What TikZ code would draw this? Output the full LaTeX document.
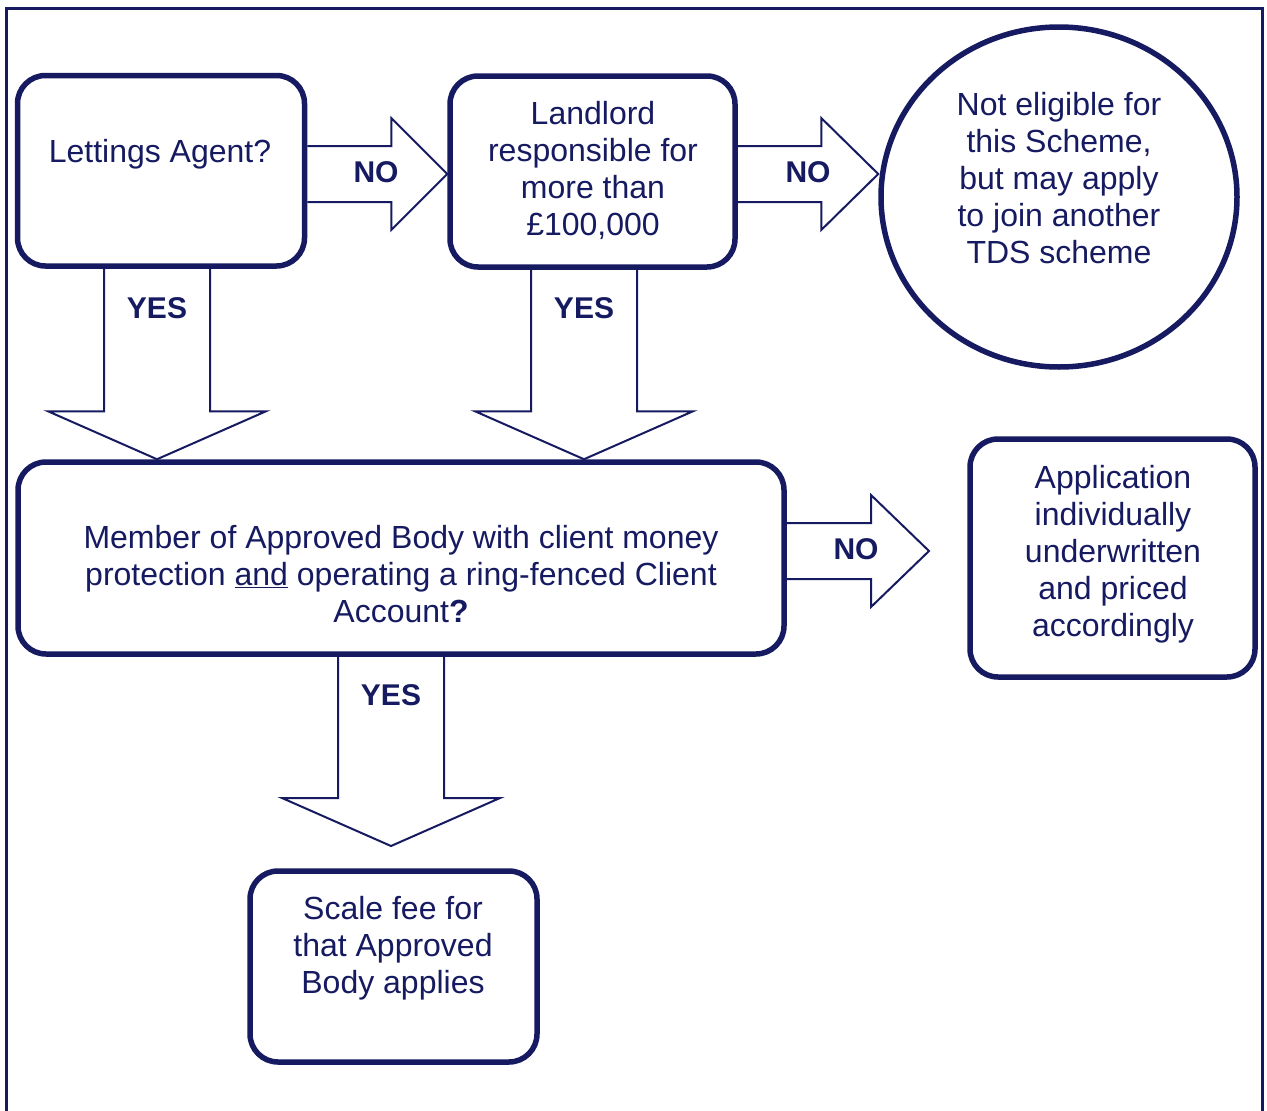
\documentclass[tikz,border=0pt]{standalone}
\usepackage{fontspec}
\setmainfont{Liberation Sans}
\usetikzlibrary{shapes.geometric,calc}
\definecolor{navy}{RGB}{22,26,96}
\newcommand\tstrut{\rule[-6.7pt]{0pt}{30.1pt}}
\newcommand\rblock[3]{% start, tip, head length
  \draw[arr] let \p1=(#1), \p2=(#2) in
    (\x1,{\y1+28pt}) -- ({\x2-#3pt},{\y1+28pt}) -- ({\x2-#3pt},{\y1+56pt}) -- (\x2,\y1)
    -- ({\x2-#3pt},{\y1-56pt}) -- ({\x2-#3pt},{\y1-28pt}) -- (\x1,{\y1-28pt});}
\newcommand\dblock[2]{% start, tip
  \draw[arr] let \p1=(#1), \p2=(#2) in
    ({\x1-53pt},\y1) -- ({\x1-53pt},{\y2+48pt}) -- ({\x1-109pt},{\y2+48pt}) -- (\x1,\y2)
    -- ({\x1+109pt},{\y2+48pt}) -- ({\x1+53pt},{\y2+48pt}) -- ({\x1+53pt},\y1);}
\begin{document}
\begin{tikzpicture}[x=1pt,y=-1pt,
  box/.style={draw=navy, line width=5.5pt, rounded corners=28pt, inner sep=0pt, rectangle},
  txt/.style={text=navy, font=\fontsize{32}{37}\selectfont, align=center, inner sep=0pt},
  lab/.style={text=navy, font=\fontsize{30}{36}\selectfont\bfseries, inner sep=0pt, anchor=base},
  arr/.style={draw=navy, line width=2pt, line join=miter}]
\useasboundingbox (0,0) rectangle (1267,1111);
\fill[white] (0,0) rectangle (1267,1111);
\draw[navy, line width=3pt] (6.5,8.5) rectangle (1262,1113);

% boxes
\node[box, minimum width=287pt, minimum height=190.5pt] (b1) at (161,170.75) {};
\node[box, minimum width=285pt, minimum height=191pt] (b2) at (592.5,171.5) {};
\node[draw=navy, line width=5.5pt, ellipse, inner sep=0pt, minimum width=356pt, minimum height=340pt] (circ) at (1059,197) {};
\node[box, minimum width=766pt, minimum height=192pt] (b3) at (401,558) {};
\node[box, minimum width=285pt, minimum height=238pt] (b4) at (1112.5,558) {};
\node[box, minimum width=287pt, minimum height=191pt] (b5) at (393.5,966.5) {};

% texts
\node[txt] (t1) at (160,153.65) {\tstrut Lettings Agent?\tstrut};
\node[txt] (t2) at (593,171.15) {\tstrut Landlord\\responsible for\\more than\\\pounds100,000\tstrut};
\node[txt] (tc) at (1059,180.65) {\tstrut Not eligible for\\this Scheme,\\but may apply\\to join another\\TDS scheme\tstrut};
\node[txt] (t3) at (401,577.15) {\tstrut Member of Approved Body with client money\\protection \underline{and} operating a ring-fenced Client\\Account\textbf{?}\tstrut};
\node[txt] (t4) at (1113,554.15) {\tstrut Application\\individually\\underwritten\\and priced\\accordingly\tstrut};
\node[txt] (t5) at (393,947.65) {\tstrut Scale fee for\\that Approved\\Body applies\tstrut};

% arrows
\coordinate (r1) at (0,174);
\coordinate (r3) at (0,551);
\coordinate (t3tip) at (929,551);
\coordinate (d1) at (157,0);
\coordinate (d2) at (584,0);
\coordinate (d3) at (391,0);
\coordinate (d3tip) at (391,846);
\rblock{b1.east |- r1}{b2.west |- r1}{56}
\rblock{b2.east |- r1}{circ.west |- r1}{57}
\rblock{b3.east |- r3}{t3tip}{58}
\dblock{d1 |- b1.south}{d1 |- b3.north}
\dblock{d2 |- b2.south}{d2 |- b3.north}
\dblock{d3 |- b3.south}{d3tip}

% labels
\node[lab] (no1) at (376,182) {NO};
\node[lab] (no2) at (808,182) {NO};
\node[lab] (no3) at (856,559) {NO};
\node[lab] (yes1) at (157,318) {YES};
\node[lab] (yes2) at (584,318) {YES};
\node[lab] (yes3) at (391,705) {YES};
\end{tikzpicture}
\end{document}
